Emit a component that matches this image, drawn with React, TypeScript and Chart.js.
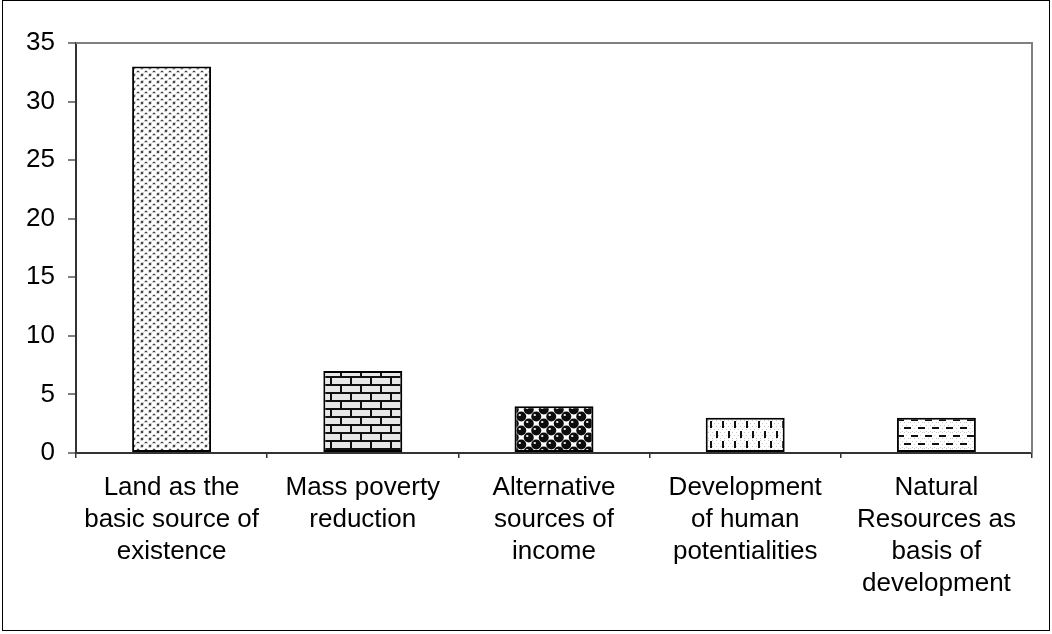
import React, { useEffect, useRef } from "react";
import { Chart, registerables } from "chart.js";

Chart.register(...registerables);

const categories: string[][] = [
  ["Land as the", "basic source of", "existence"],
  ["Mass poverty", "reduction"],
  ["Alternative", "sources of", "income"],
  ["Development", "of human", "potentialities"],
  ["Natural", "Resources as", "basis of", "development"],
];
const values: number[] = [33, 7, 4, 3, 3];
const yTicks: number[] = [0, 5, 10, 15, 20, 25, 30, 35];

const FONT = "'Liberation Sans', Arial, sans-serif";

function tile(w: number, h: number, draw: (c: CanvasRenderingContext2D) => void): CanvasPattern {
  const cv = document.createElement("canvas");
  cv.width = w;
  cv.height = h;
  const c = cv.getContext("2d")!;
  c.fillStyle = "#fff";
  c.fillRect(0, 0, w, h);
  draw(c);
  const p = document.createElement("canvas").getContext("2d")!.createPattern(cv, "repeat");
  return p as CanvasPattern;
}

// fine speckle
function dotsPattern() {
  return tile(8, 7, (c) => {
    c.fillStyle = "#d2d2d2";
    c.fillRect(0, 0, 4, 3);
    c.fillRect(4, 3, 4, 4);
    c.fillStyle = "#ffffff";
    c.fillRect(0, 0, 1, 1);
    c.fillRect(3, 0, 1, 1);
    c.fillRect(4, 3, 1, 1);
    c.fillRect(7, 6, 1, 1);
    c.fillStyle = "#444";
    c.fillRect(1, 1, 2, 1);
    c.fillRect(5, 4, 2, 2);
  });
}

// brick wall
function brickPattern() {
  return tile(20, 16, (c) => {
    c.fillStyle = "#e8e8e8";
    c.fillRect(0, 0, 20, 16);
    c.fillStyle = "#111";
    c.fillRect(0, 0, 20, 2);
    c.fillRect(0, 8, 20, 2);
    c.fillRect(0, 2, 2, 6);
    c.fillRect(10, 10, 2, 6);
  });
}

// black spheres
function spherePattern() {
  return tile(15, 14, (c) => {
    const centers: number[][] = [];
    for (const [bx, by] of [[0, 0], [7.5, 7]])
      for (const dx of [-15, 0, 15])
        for (const dy of [-14, 0, 14]) centers.push([bx + dx + 3.75, by + dy + 3.5]);
    for (const [x, y] of centers) {
      c.fillStyle = "#0c0c0c";
      c.beginPath();
      c.arc(x, y, 5, 0, Math.PI * 2);
      c.fill();
    }
    for (const [x, y] of centers) {
      c.fillStyle = "#e6e6e6";
      c.fillRect(x - 2.5, y - 2.5, 2, 2);
    }
  });
}

// vertical dashes on light speckle
function vDashPattern() {
  return tile(12, 20, (c) => {
    c.fillStyle = "#c8c8c8";
    for (let y = 0; y < 20; y += 3)
      for (let x = (y % 2) * 2; x < 12; x += 4) c.fillRect(x, y, 1, 1);
    c.fillStyle = "#111";
    c.fillRect(2, 1, 2, 7);
    c.fillRect(8, 11, 2, 7);
  });
}

// horizontal dashes on light speckle
function hDashPattern() {
  return tile(14, 16, (c) => {
    c.fillStyle = "#c8c8c8";
    for (let y = 0; y < 16; y += 3)
      for (let x = (y % 2) * 2; x < 14; x += 4) c.fillRect(x, y, 1, 1);
    c.fillStyle = "#111";
    c.fillRect(1, 3, 7, 2);
    c.fillRect(8, 11, 6, 2);
    c.fillRect(0, 11, 1, 2);
  });
}

const framePlugin = {
  id: "frame",
  afterDraw(chart: any) {
    const { ctx, chartArea } = chart;
    ctx.save();
    ctx.strokeStyle = "#808080";
    ctx.lineWidth = 2;
    ctx.beginPath();
    ctx.moveTo(chartArea.left, chartArea.top);
    ctx.lineTo(chartArea.right, chartArea.top);
    ctx.lineTo(chartArea.right, chartArea.bottom);
    ctx.stroke();
    ctx.strokeStyle = "#000";
    ctx.lineWidth = 1;
    ctx.strokeRect(2.5, 0.5, 1047, 630);
    ctx.restore();
  },
};

export default function App() {
  const ref = useRef<HTMLCanvasElement>(null);

  useEffect(() => {
    document.body.style.margin = "0";
    const chart = new Chart(ref.current!, {
      type: "bar",
      data: {
        labels: categories,
        datasets: [
          {
            data: values,
            backgroundColor: [dotsPattern(), brickPattern(), spherePattern(), vDashPattern(), hDashPattern()],
            borderColor: "#000",
            borderWidth: 2,
            borderSkipped: false,
            barPercentage: 0.413,
            categoryPercentage: 1,
          },
        ],
      },
      options: {
        responsive: false,
        animation: false,
        devicePixelRatio: 1,
        layout: { padding: { top: 43, right: 20, left: 0, bottom: 0 } },
        plugins: { legend: { display: false }, tooltip: { enabled: false } },
        scales: {
          x: {
            grid: { drawOnChartArea: false, tickLength: 5, color: "#333", lineWidth: 1.5, offset: true },
            border: { color: "#333", width: 2 },
            ticks: {
              font: { family: FONT, size: 26, lineHeight: 1.23 },
              color: "#000",
              padding: 14,
              maxRotation: 0,
              autoSkip: false,
            },
            afterFit: (s: any) => {
              s.height = 181;
            },
          },
          y: {
            min: 0,
            max: 35,
            afterBuildTicks: (s: any) => {
              s.ticks = yTicks.map((v) => ({ value: v }));
            },
            grid: { drawOnChartArea: false, tickLength: 8, color: "#808080", lineWidth: 2 },
            border: { color: "#333", width: 2 },
            ticks: { font: { family: FONT, size: 26 }, color: "#000", padding: 13 },
            afterFit: (s: any) => {
              s.width = 76;
            },
          },
        },
      },
      plugins: [framePlugin],
    });
    return () => chart.destroy();
  }, []);

  return <canvas ref={ref} width={1052} height={634} style={{ display: "block" }} />;
}
